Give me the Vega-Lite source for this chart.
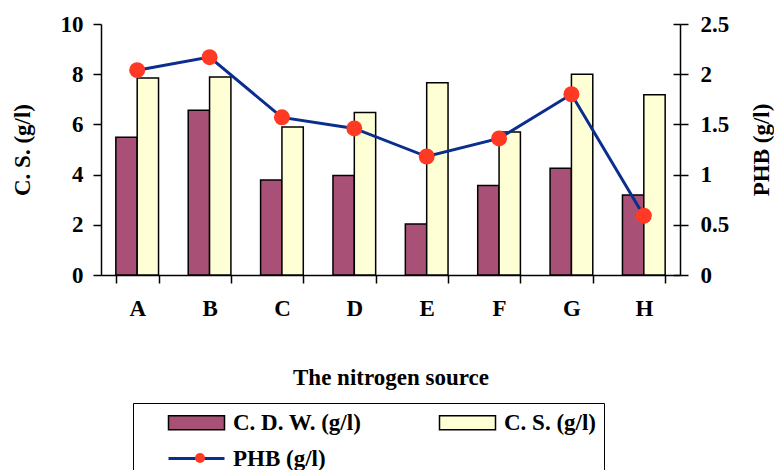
{
  "$schema": "https://vega.github.io/schema/vega-lite/v6.json",
  "width": 579,
  "height": 251,
  "autosize": "none",
  "padding": {"left": 101, "top": 24, "right": 94, "bottom": 195},
  "background": "white",
  "config": {
    "font": "Liberation Serif",
    "view": {"stroke": null},
    "axis": {
      "labelFont": "Liberation Serif", "labelFontSize": 23, "labelFontWeight": "bold", "labelColor": "black",
      "titleFont": "Liberation Serif", "titleFontSize": 23, "titleFontWeight": "bold", "titleColor": "black",
      "domainColor": "black", "tickColor": "black", "domainWidth": 1.5, "tickWidth": 1.5, "grid": false
    },
    "legend": {"labelFont": "Liberation Serif", "labelFontWeight": "bold", "labelColor": "black"}
  },
  "datasets": {
    "bars": [
      {"source": "A", "series": "C. D. W. (g/l)", "value": 5.49},
      {"source": "B", "series": "C. D. W. (g/l)", "value": 6.56},
      {"source": "C", "series": "C. D. W. (g/l)", "value": 3.78},
      {"source": "D", "series": "C. D. W. (g/l)", "value": 3.96},
      {"source": "E", "series": "C. D. W. (g/l)", "value": 2.03},
      {"source": "F", "series": "C. D. W. (g/l)", "value": 3.57},
      {"source": "G", "series": "C. D. W. (g/l)", "value": 4.25},
      {"source": "H", "series": "C. D. W. (g/l)", "value": 3.19},
      {"source": "A", "series": "C. S. (g/l)", "value": 7.85},
      {"source": "B", "series": "C. S. (g/l)", "value": 7.89},
      {"source": "C", "series": "C. S. (g/l)", "value": 5.90},
      {"source": "D", "series": "C. S. (g/l)", "value": 6.47},
      {"source": "E", "series": "C. S. (g/l)", "value": 7.66},
      {"source": "F", "series": "C. S. (g/l)", "value": 5.70},
      {"source": "G", "series": "C. S. (g/l)", "value": 8.00},
      {"source": "H", "series": "C. S. (g/l)", "value": 7.18}
    ],
    "phb": [
      {"source": "A", "phb": 2.04},
      {"source": "B", "phb": 2.17},
      {"source": "C", "phb": 1.57},
      {"source": "D", "phb": 1.46},
      {"source": "E", "phb": 1.18},
      {"source": "F", "phb": 1.36},
      {"source": "G", "phb": 1.80},
      {"source": "H", "phb": 0.59}
    ]
  },
  "layer": [
    {
      "data": {"name": "bars"},
      "mark": {"type": "bar", "stroke": "black", "strokeWidth": 1.5},
      "encoding": {
        "x": {
          "field": "source", "type": "nominal",
          "scale": {"paddingInner": 0.41, "paddingOuter": 0.205},
          "axis": {"title": "The nitrogen source", "labelAngle": 0, "tickBand": "extent", "tickSize": 8, "labelPadding": 14, "titlePadding": 46}
        },
        "xOffset": {"field": "series", "type": "nominal", "sort": ["C. D. W. (g/l)", "C. S. (g/l)"], "scale": {"paddingInner": 0, "paddingOuter": 0}},
        "y": {
          "field": "value", "type": "quantitative",
          "scale": {"domain": [0, 10], "nice": false},
          "axis": {"values": [0, 2, 4, 6, 8, 10], "title": "C. S. (g/l)", "tickSize": 8, "labelPadding": 10, "titlePadding": 26}
        },
        "fill": {
          "field": "series", "type": "nominal",
          "scale": {"domain": ["C. D. W. (g/l)", "C. S. (g/l)", "PHB (g/l)"], "range": ["#A85076", "#FFFFD6", "#0A2D8E"]},
          "legend": {
            "title": "\u00a0", "titleOrient": "left", "titleFontSize": 6, "titlePadding": 27,
            "orient": "none", "legendX": 32, "legendY": 379, "direction": "horizontal",
            "columns": 2, "gridAlign": "all", "strokeColor": "black", "padding": 8,
            "columnPadding": 74, "rowPadding": 12, "labelFontSize": 23, "labelOffset": 25, "symbolOffset": 17,
            "symbolSize": 3136, "symbolStrokeColor": "black", "symbolStrokeWidth": 1.5,
            "encode": {
              "symbols": {
                "update": {
                  "shape": {"signal": "datum.label === 'PHB (g/l)' ? 'M-1,0H1' : 'M-1,-0.25H1V0.25H-1Z'"},
                  "size": {"value": 3136},
                  "fill": {"signal": "datum.label === 'C. D. W. (g/l)' ? '#A85076' : (datum.label === 'C. S. (g/l)' ? '#FFFFD6' : 'transparent')"},
                  "stroke": {"signal": "datum.label === 'PHB (g/l)' ? '#0A2D8E' : 'black'"},
                  "strokeWidth": {"signal": "datum.label === 'PHB (g/l)' ? 3 : 1.5"},
                  "opacity": {"value": 1}
                }
              }
            }
          }
        }
      }
    },
    {
      "data": {"name": "phb"},
      "layer": [
        {
          "mark": {"type": "line", "color": "#0A2D8E", "strokeWidth": 3},
          "encoding": {
            "x": {"field": "source", "type": "nominal", "axis": {"orient": "bottom", "tickBand": "extent", "tickSize": -8, "labels": false, "domain": false, "title": null}},
            "y": {
              "field": "phb", "type": "quantitative",
              "scale": {"domain": [0, 2.5], "nice": false},
              "axis": {"orient": "right", "values": [0, 0.5, 1, 1.5, 2, 2.5], "format": "~g", "title": "PHB (g/l)", "titleAngle": -90, "titleBaseline": "top", "tickSize": 8, "labelPadding": 12, "titlePadding": 22}
            }
          }
        },
        {
          "mark": {"type": "point", "filled": true, "color": "#FF3A24", "size": 256, "opacity": 1},
          "encoding": {
            "x": {"field": "source", "type": "nominal", "axis": null},
            "y": {
              "field": "phb", "type": "quantitative",
              "scale": {"domain": [0, 2.5], "nice": false},
              "axis": {"orient": "right", "values": [0, 0.5, 1, 1.5, 2, 2.5], "tickSize": -7, "labels": false, "domain": false, "title": null}
            },
            "shape": {
              "datum": "PHB (g/l)",
              "scale": {"range": ["circle"]},
              "legend": {
                "title": null, "orient": "none", "legendX": 89, "legendY": 424, "padding": 0,
                "labelFontSize": 20, "labelExpr": "''", "symbolOffset": 0,
                "encode": {"symbols": {"update": {"size": {"value": 400}, "fill": {"value": "#FF3A24"}, "stroke": {"value": "transparent"}, "opacity": {"value": 1}}}}
              }
            }
          }
        }
      ],
      "resolve": {"axis": {"y": "independent"}}
    }
  ],
  "resolve": {"scale": {"y": "independent"}, "axis": {"x": "independent"}}
}
